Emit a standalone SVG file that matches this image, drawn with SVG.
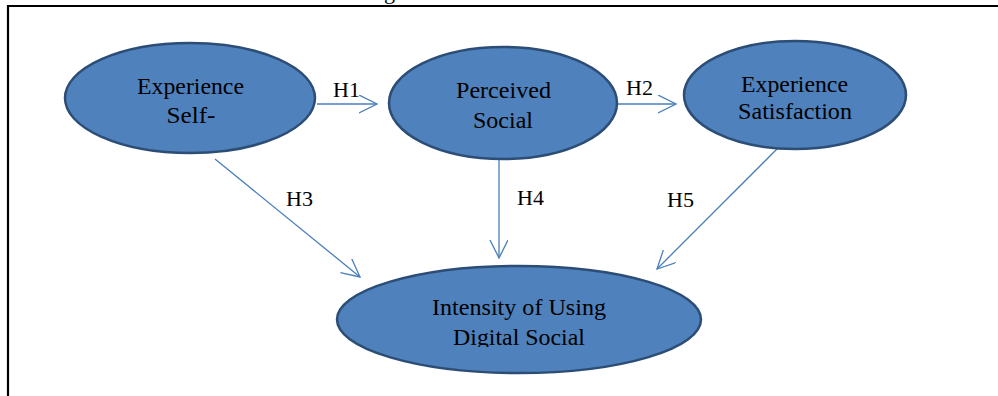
<svg xmlns="http://www.w3.org/2000/svg" width="998" height="396" viewBox="0 0 998 396">
<style>
.node{fill:#4f81bd;stroke:#2c4d75;stroke-width:2.5}
.lbl{font-family:"Liberation Serif","Times New Roman",serif;font-size:23px;fill:#000;text-anchor:middle}
.h{font-family:"Liberation Serif","Times New Roman",serif;font-size:22px;fill:#000}
.edge{stroke:#4a7ebb;stroke-width:1.3;fill:none;marker-end:url(#arr)}
</style>
<defs>
<marker id="arr" markerUnits="userSpaceOnUse" markerWidth="20" markerHeight="20" refX="18" refY="9" orient="auto">
<path d="M0,0 L18,9 L0,18" fill="none" stroke="#4a7ebb" stroke-width="1.3"/>
</marker>
<clipPath id="clip4"><rect x="330" y="260" width="380" height="87"/></clipPath>
</defs>
<rect width="998" height="396" fill="#fff"/>
<text class="h" x="384" y="-1" font-size="20">g</text>
<path d="M8,396 V6 H998" fill="none" stroke="#000" stroke-width="2.2"/>
<g id="connectors">
<line class="edge" x1="317" y1="104" x2="377" y2="104"/>
<line class="edge" x1="618" y1="104" x2="676" y2="104"/>
<line class="edge" x1="215" y1="159" x2="360" y2="277"/>
<line class="edge" x1="499" y1="159" x2="499" y2="258"/>
<line class="edge" x1="777" y1="149" x2="657" y2="269"/>
<text class="h" x="333" y="97">H1</text>
<text class="h" x="626" y="95">H2</text>
<text class="h" x="286" y="206">H3</text>
<text class="h" x="517" y="205">H4</text>
<text class="h" x="667" y="207" font-size="19">H5</text>
</g>
<g id="n1">
<ellipse class="node" cx="190" cy="98" rx="125" ry="55"/>
<text class="lbl" x="190.5" y="94" textLength="107" lengthAdjust="spacingAndGlyphs">Experience</text>
<text class="lbl" x="191" y="123" textLength="49" lengthAdjust="spacingAndGlyphs">Self-</text>
</g>
<g id="n2">
<ellipse class="node" cx="503" cy="103" rx="114" ry="56"/>
<text class="lbl" x="503.5" y="98" textLength="95" lengthAdjust="spacingAndGlyphs">Perceived</text>
<text class="lbl" x="503" y="128" textLength="60" lengthAdjust="spacingAndGlyphs">Social</text>
</g>
<g id="n3">
<ellipse class="node" cx="795" cy="95" rx="111" ry="54"/>
<text class="lbl" x="794.5" y="92" textLength="107" lengthAdjust="spacingAndGlyphs">Experience</text>
<text class="lbl" x="795" y="119" textLength="114" lengthAdjust="spacingAndGlyphs">Satisfaction</text>
</g>
<g id="n4">
<ellipse class="node" cx="519" cy="319.5" rx="182" ry="53.5"/>
<text class="lbl" x="519" y="315" textLength="174" lengthAdjust="spacingAndGlyphs">Intensity of Using</text>
<text class="lbl" x="519" y="345" textLength="132" lengthAdjust="spacingAndGlyphs" clip-path="url(#clip4)">Digital Social</text>
</g>
</svg>
